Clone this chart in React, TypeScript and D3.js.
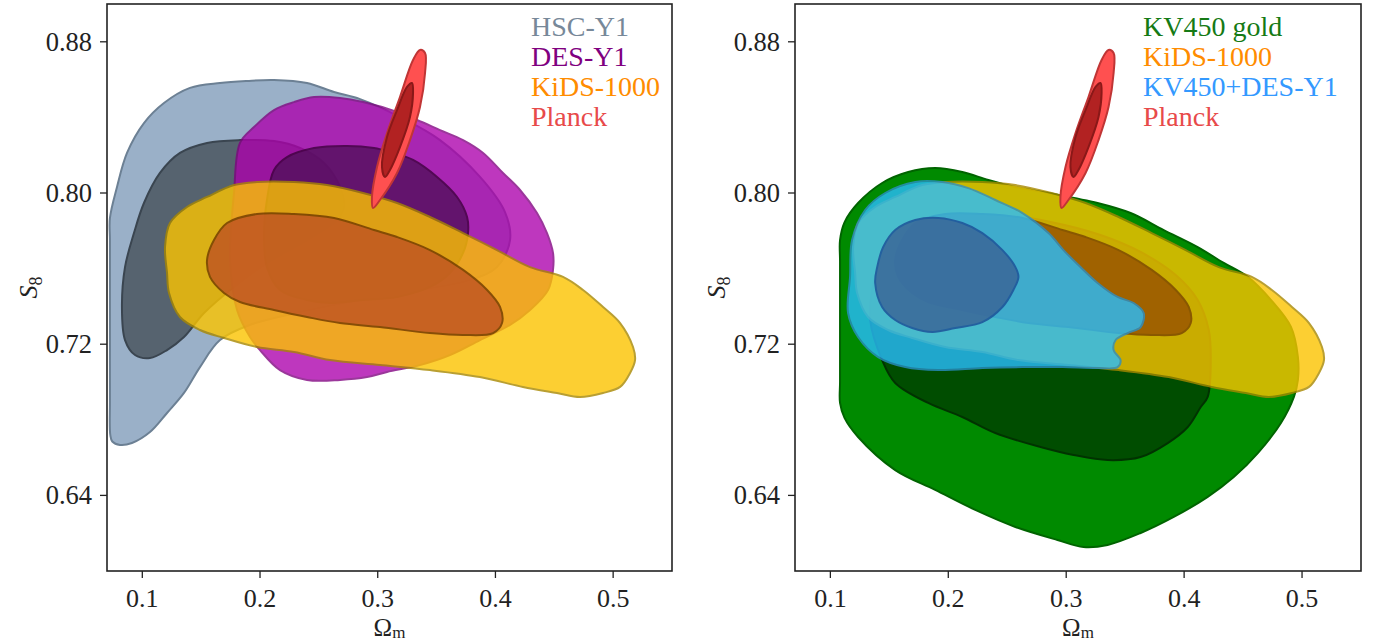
import React from "react";
import * as d3 from "d3";

type P = [number, number];

const xTicks = [0.1, 0.2, 0.3, 0.4, 0.5];
const yTicks = [0.64, 0.72, 0.8, 0.88];
const xDomain: [number, number] = [0.07, 0.55];
const yDomain: [number, number] = [0.6, 0.9];

const leftLegend = ["HSC-Y1", "DES-Y1", "KiDS-1000", "Planck"];
const rightLegend = ["KV450 gold", "KiDS-1000", "KV450+DES-Y1", "Planck"];

const hscOuter: P[] = [
  [0.0725, 0.7868], [0.0785, 0.8032], [0.087, 0.8212], [0.1014, 0.837], [0.1184, 0.8476],
  [0.1405, 0.8556], [0.166, 0.8582], [0.1889, 0.8593], [0.2119, 0.8598], [0.2399, 0.8582],
  [0.2629, 0.8534], [0.285, 0.8497], [0.3189, 0.8402], [0.3529, 0.828], [0.3869, 0.8085],
  [0.4081, 0.7899], [0.4124, 0.7751], [0.4013, 0.7608], [0.3784, 0.754], [0.3359, 0.7487],
  [0.285, 0.7434], [0.234, 0.737], [0.1915, 0.7302], [0.166, 0.7222], [0.149, 0.7079],
  [0.1354, 0.6942], [0.121, 0.6836], [0.1065, 0.6735], [0.0912, 0.6677], [0.081, 0.6667],
  [0.0745, 0.6685], [0.0728, 0.672], [0.0725, 0.69], [0.0725, 0.72], [0.0725, 0.75],
  [0.0725, 0.775],
];
const hscInner: P[] = [
  [0.0853, 0.7222], [0.0827, 0.7397], [0.0853, 0.7608], [0.0929, 0.7788], [0.1014, 0.7947],
  [0.115, 0.8106], [0.132, 0.8212], [0.155, 0.8265], [0.183, 0.828], [0.2119, 0.8275],
  [0.234, 0.8238], [0.2544, 0.8159], [0.268, 0.8032], [0.2714, 0.7926], [0.2654, 0.7857],
  [0.2399, 0.7751], [0.2059, 0.763], [0.1779, 0.7503], [0.1524, 0.7365], [0.1354, 0.7238],
  [0.121, 0.7169], [0.1065, 0.7127], [0.0938, 0.7143],
];
const desOuter: P[] = [
  [0.1745, 0.7646], [0.1779, 0.8], [0.183, 0.8265], [0.1949, 0.8349], [0.2119, 0.8439],
  [0.2289, 0.8481], [0.2459, 0.8508], [0.268, 0.8503], [0.2875, 0.8481], [0.3164, 0.8429],
  [0.3334, 0.8386], [0.3529, 0.8333], [0.3725, 0.828], [0.3895, 0.8212], [0.4064, 0.8106],
  [0.4209, 0.8016], [0.4353, 0.7894], [0.4438, 0.7788], [0.4489, 0.7683], [0.4489, 0.7593],
  [0.4447, 0.7487], [0.4294, 0.7381], [0.4124, 0.7302], [0.3869, 0.7222], [0.3614, 0.7143],
  [0.3359, 0.709], [0.3079, 0.7053], [0.2909, 0.7026], [0.268, 0.7011], [0.2399, 0.7011],
  [0.217, 0.7063], [0.2, 0.7169], [0.1915, 0.7238], [0.1805, 0.7381],
];
const desInner: P[] = [
  [0.2119, 0.8122], [0.2229, 0.819], [0.2459, 0.8238], [0.2739, 0.8249], [0.2968, 0.8238],
  [0.3104, 0.8217], [0.33, 0.8175], [0.3504, 0.8085], [0.3674, 0.7979], [0.3759, 0.7873],
  [0.3767, 0.7788], [0.3725, 0.7683], [0.3614, 0.7577], [0.3444, 0.7503], [0.3164, 0.745],
  [0.2875, 0.7434], [0.2595, 0.7418], [0.2399, 0.7434], [0.217, 0.7487], [0.2059, 0.7608],
  [0.2034, 0.7767], [0.2059, 0.7963],
];
const kidsOuter: P[] = [
  [0.1193, 0.7714], [0.1235, 0.7841], [0.138, 0.7926], [0.155, 0.7979], [0.1779, 0.8042],
  [0.1974, 0.8058], [0.2289, 0.8058], [0.2569, 0.8042], [0.2875, 0.8], [0.3164, 0.7947],
  [0.3444, 0.7873], [0.3725, 0.7788], [0.4013, 0.7698], [0.4294, 0.7608], [0.4574, 0.7556],
  [0.4744, 0.7487], [0.4914, 0.7397], [0.5059, 0.7312], [0.5169, 0.7185], [0.5186, 0.7116],
  [0.5144, 0.7048], [0.5059, 0.6974], [0.4914, 0.6942], [0.4719, 0.6921], [0.4523, 0.6942],
  [0.4234, 0.6974], [0.3869, 0.7026], [0.3444, 0.7063], [0.3019, 0.709], [0.2595, 0.7116],
  [0.2289, 0.7159], [0.1974, 0.7185], [0.1694, 0.7233], [0.149, 0.7275], [0.132, 0.7344],
  [0.1227, 0.7471], [0.121, 0.7577],
];
const kidsInner: P[] = [
  [0.155, 0.7646], [0.1609, 0.7751], [0.172, 0.7841], [0.1974, 0.7889], [0.2289, 0.7889],
  [0.2629, 0.7868], [0.2968, 0.7804], [0.3164, 0.7767], [0.3444, 0.7698], [0.3725, 0.7593],
  [0.3929, 0.7487], [0.4039, 0.7397], [0.4056, 0.7312], [0.398, 0.7259], [0.3725, 0.7249],
  [0.3444, 0.7259], [0.3019, 0.7291], [0.268, 0.7312], [0.2399, 0.7344], [0.2119, 0.7381],
  [0.183, 0.7423], [0.1694, 0.7471], [0.1575, 0.7556],
];
const planckOuter: P[] = [
  [0.3359, 0.8757], [0.3402, 0.8741], [0.3402, 0.8635], [0.3359, 0.8455], [0.3274, 0.828],
  [0.3164, 0.8106], [0.3019, 0.7963], [0.296, 0.7921], [0.2951, 0.7979], [0.2994, 0.8138],
  [0.3079, 0.8317], [0.3189, 0.8508], [0.33, 0.8704],
];
const planckInner: P[] = [
  [0.3291, 0.8582], [0.33, 0.8529], [0.3274, 0.8402], [0.3189, 0.8243], [0.3104, 0.8122],
  [0.3062, 0.8085], [0.3036, 0.8138], [0.3079, 0.8296], [0.3164, 0.8439], [0.3249, 0.8561],
];
const kvGoldOuter: P[] = [
  [0.1082, 0.7751], [0.112, 0.7845], [0.1235, 0.7947], [0.1439, 0.8053], [0.166, 0.8111],
  [0.1889, 0.8132], [0.2119, 0.8111], [0.234, 0.8069], [0.2569, 0.8032], [0.285, 0.8],
  [0.3266, 0.7947], [0.3546, 0.7894], [0.3827, 0.7804], [0.4115, 0.7714], [0.4336, 0.763],
  [0.454, 0.7556], [0.4736, 0.7434], [0.4906, 0.7291], [0.4965, 0.7132], [0.4965, 0.7011],
  [0.4931, 0.6921], [0.4821, 0.6783], [0.4625, 0.6624], [0.4421, 0.6497], [0.42, 0.6392],
  [0.3912, 0.6286], [0.3631, 0.6201], [0.3351, 0.6138], [0.3147, 0.6127], [0.2926, 0.6164],
  [0.2569, 0.6233], [0.2229, 0.6323], [0.1889, 0.6429], [0.155, 0.6534], [0.1235, 0.6709],
  [0.112, 0.681], [0.1082, 0.6889], [0.1082, 0.7], [0.1082, 0.72], [0.1082, 0.74],
  [0.1082, 0.764],
];
const kvGoldInner: P[] = [
  [0.1337, 0.7328], [0.1354, 0.7487], [0.1422, 0.7635], [0.155, 0.7751], [0.1762, 0.7831],
  [0.2059, 0.7878], [0.2442, 0.7884], [0.2867, 0.7847], [0.3291, 0.7778], [0.3631, 0.7688],
  [0.3929, 0.7566], [0.4115, 0.7434], [0.4209, 0.7275], [0.4226, 0.7116], [0.42, 0.6921],
  [0.4141, 0.6868], [0.4031, 0.6762], [0.3861, 0.6677], [0.3631, 0.6603], [0.3351, 0.6587],
  [0.3062, 0.6614], [0.2782, 0.6656], [0.2399, 0.673], [0.2119, 0.6815], [0.183, 0.6889],
  [0.155, 0.6995], [0.1439, 0.7116],
];
const kvDesOuter: P[] = [
  [0.1167, 0.7556], [0.115, 0.7365], [0.1235, 0.7238], [0.1405, 0.7132], [0.1635, 0.7079],
  [0.1915, 0.7063], [0.2289, 0.7074], [0.2629, 0.7079], [0.2968, 0.7079], [0.3266, 0.7074],
  [0.3436, 0.7079], [0.3461, 0.7116], [0.3402, 0.7169], [0.3419, 0.7222], [0.3521, 0.7259],
  [0.3631, 0.7291], [0.3657, 0.7365], [0.3572, 0.7418], [0.3436, 0.745], [0.3266, 0.7524],
  [0.3121, 0.7608], [0.2977, 0.7698], [0.285, 0.7788], [0.2629, 0.7894], [0.2399, 0.7963],
  [0.217, 0.8026], [0.1949, 0.8058], [0.172, 0.8058], [0.1465, 0.8], [0.1295, 0.791],
  [0.1184, 0.7751],
];
const kvDesInner: P[] = [
  [0.1397, 0.7608], [0.138, 0.7524], [0.1439, 0.7397], [0.155, 0.7328], [0.1694, 0.7286],
  [0.1864, 0.7265], [0.2059, 0.7286], [0.2289, 0.7317], [0.2459, 0.7397], [0.2552, 0.7487],
  [0.2595, 0.7556], [0.2569, 0.7608], [0.2459, 0.7698], [0.2289, 0.7788], [0.2119, 0.7841],
  [0.1915, 0.7868], [0.172, 0.7857], [0.155, 0.7804], [0.1448, 0.7714],
];

type Layer = { pts: P[]; fill: string; stroke: string; opacity: number };

const leftLayers: Layer[] = [
  { pts: hscOuter, fill: "#9ab0c8", stroke: "#6c8094", opacity: 1 },
  { pts: hscInner, fill: "#56636f", stroke: "#3a4550", opacity: 1 },
  { pts: desOuter, fill: "#ac00ac", stroke: "#800080", opacity: 0.78 },
  { pts: desInner, fill: "#50105a", stroke: "#3a003a", opacity: 0.78 },
  { pts: kidsOuter, fill: "#fcc400", stroke: "#a88800", opacity: 0.8 },
  { pts: kidsInner, fill: "#be5222", stroke: "#6e3800", opacity: 0.8 },
  { pts: planckOuter, fill: "#ff5050", stroke: "#c03535", opacity: 1 },
  { pts: planckInner, fill: "#b22222", stroke: "#8a1818", opacity: 1 },
];
const rightLayers: Layer[] = [
  { pts: kvGoldOuter, fill: "#008a00", stroke: "#006400", opacity: 1 },
  { pts: kvGoldInner, fill: "#004d00", stroke: "#003300", opacity: 1 },
  { pts: kidsOuter, fill: "#fcc400", stroke: "#a88800", opacity: 0.8 },
  { pts: kidsInner, fill: "#965000", stroke: "#7a4400", opacity: 0.8 },
  { pts: kvDesOuter, fill: "#28beff", stroke: "#2a8fc8", opacity: 0.8 },
  { pts: kvDesInner, fill: "#3a6496", stroke: "#1c4e96", opacity: 0.82 },
  { pts: planckOuter, fill: "#ff5050", stroke: "#c03535", opacity: 1 },
  { pts: planckInner, fill: "#b22222", stroke: "#8a1818", opacity: 1 },
];

const leftColors = ["#778899", "#800080", "#ff8c00", "#e84a4a"];
const rightColors = ["#157a15", "#ff8c00", "#3399ff", "#e84a4a"];

const FONT = "'Liberation Serif', 'Times New Roman', serif";
const TOP = 4;
const BOTTOM = 571;

function Panel({ x0, x1, layers, legend, colors, legendX, id }: {
  x0: number; x1: number; layers: Layer[]; legend: string[]; colors: string[]; legendX: number; id: string;
}) {
  const x = d3.scaleLinear().domain(xDomain).range([x0, x1]);
  const y = d3.scaleLinear().domain(yDomain).range([BOTTOM, TOP]);
  const line = d3.line<P>().x((d) => x(d[0])).y((d) => y(d[1])).curve(d3.curveCatmullRomClosed.alpha(0.5));
  return (
    <g>
      <defs>
        <clipPath id={id}>
          <rect x={x0} y={TOP} width={x1 - x0} height={BOTTOM - TOP} />
        </clipPath>
      </defs>
      <g clipPath={`url(#${id})`}>
        {layers.map((l, i) => (
          <path key={i} d={line(l.pts) || ""} fill={l.fill} stroke={l.stroke} strokeWidth={2}
            strokeLinejoin="round" opacity={l.opacity} />
        ))}
      </g>
      <rect x={x0} y={TOP} width={x1 - x0} height={BOTTOM - TOP} fill="none" stroke="#222" strokeWidth={1.6} />
      {xTicks.map((t) => (
        <g key={t}>
          <line x1={x(t)} x2={x(t)} y1={BOTTOM} y2={BOTTOM + 7} stroke="#222" strokeWidth={1.3} />
          <text x={x(t)} y={607} textAnchor="middle" fontFamily={FONT} fontSize={26} fill="#222">{t.toFixed(1)}</text>
        </g>
      ))}
      {yTicks.map((t) => (
        <g key={t}>
          <line x1={x0 - 7} x2={x0} y1={y(t)} y2={y(t)} stroke="#222" strokeWidth={1.3} />
          <text x={x0 - 15} y={y(t) + 9} textAnchor="end" fontFamily={FONT} fontSize={26.5} fill="#222">{t.toFixed(2)}</text>
        </g>
      ))}
      <text x={(x0 + x1) / 2} y={636} textAnchor="middle" fontFamily={FONT} fill="#222">
        <tspan fontSize={25}>Ω</tspan>
        <tspan fontSize={17} dy={2}>m</tspan>
      </text>
      <text transform={`translate(${x0 - 70},${(TOP + BOTTOM) / 2}) rotate(-90)`} textAnchor="middle"
        fontFamily={FONT} fill="#222">
        <tspan fontSize={26} fontStyle="italic">S</tspan>
        <tspan fontSize={18} dy={5}>8</tspan>
      </text>
      {legend.map((s, i) => (
        <text key={s} x={legendX} y={36 + i * 30} fontFamily={FONT} fontSize={28} fill={colors[i]}>{s}</text>
      ))}
    </g>
  );
}

export default function App() {
  return (
    <svg width={1377} height={642} style={{ position: "absolute", left: 0, top: 0, background: "#fff" }}>
      <rect width={1377} height={642} fill="#fff" />
      <Panel x0={107} x1={672} layers={leftLayers} legend={leftLegend} colors={leftColors} legendX={531} id="clipL" />
      <Panel x0={795} x1={1361} layers={rightLayers} legend={rightLegend} colors={rightColors} legendX={1143} id="clipR" />
    </svg>
  );
}
